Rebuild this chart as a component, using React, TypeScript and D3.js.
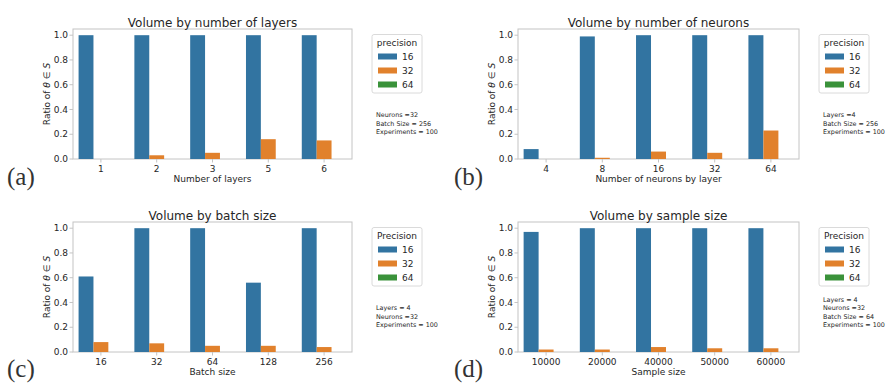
import React from "react";
import * as d3 from "d3";

const precisions = ["16", "32", "64"];
const colors = ["#3274a1", "#e1812c", "#3a923a"];

const layersCats = ["1", "2", "3", "5", "6"];
const layers16 = [1.0, 1.0, 1.0, 1.0, 1.0];
const layers32 = [0.0, 0.03, 0.05, 0.16, 0.15];
const layers64 = [0, 0, 0, 0, 0];

const neuronsCats = ["4", "8", "16", "32", "64"];
const neurons16 = [0.08, 0.99, 1.0, 1.0, 1.0];
const neurons32 = [0.0, 0.01, 0.06, 0.05, 0.23];
const neurons64 = [0, 0, 0, 0, 0];

const batchCats = ["16", "32", "64", "128", "256"];
const batch16 = [0.61, 1.0, 1.0, 0.56, 1.0];
const batch32 = [0.08, 0.07, 0.05, 0.05, 0.04];
const batch64 = [0, 0, 0, 0, 0];

const sampleCats = ["10000", "20000", "40000", "50000", "60000"];
const sample16 = [0.97, 1.0, 1.0, 1.0, 1.0];
const sample32 = [0.02, 0.02, 0.04, 0.03, 0.03];
const sample64 = [0, 0, 0, 0, 0];

const yTicks = [0, 0.2, 0.4, 0.6, 0.8, 1.0];

const FONT = "DejaVu Sans, sans-serif";

type PanelProps = {
  left: number; right: number; top: number; bottom: number;
  title: string; xLabel: string; cats: string[]; series: number[][];
  legendTitle: string; notes: string[]; letter: string; letterX: number; letterY: number;
};

function Panel(p: PanelProps) {
  const x = d3.scaleBand<string>().domain(p.cats).range([p.left, p.right]).padding(0);
  const inner = d3.scaleBand<string>().domain(precisions).range([0, x.bandwidth() * 0.8]).padding(0);
  const y = d3.scaleLinear().domain([0, 1.05]).range([p.bottom, p.top]);
  const cx = (p.left + p.right) / 2;
  const lx = p.right + 20;
  const ly = p.top + 5.5;
  const lw = 50;
  const lh = 58.5;
  const noteLast = p.top + 103 + 2;
  return (
    <g>
      <rect x={p.left} y={p.top} width={p.right - p.left} height={p.bottom - p.top} fill="none" stroke="#c4c4c4" strokeWidth={1} />
      {p.series.map((vals, si) =>
        vals.map((v, i) => {
          const x0 = (x(p.cats[i]) as number) + x.bandwidth() * 0.1 + (inner(precisions[si]) as number);
          return (
            <rect key={`${si}-${i}`} x={x0} y={y(v)} width={inner.bandwidth()} height={p.bottom - y(v)} fill={colors[si]} />
          );
        })
      )}
      {yTicks.map((t) => (
        <g key={t}>
          <line x1={p.left - 3.5} x2={p.left} y1={y(t)} y2={y(t)} stroke="#c4c4c4" />
          <text x={p.left - 5} y={y(t)} dy="0.35em" textAnchor="end" fontSize={9} fill="#262626" fontFamily={FONT}>
            {t.toFixed(1)}
          </text>
        </g>
      ))}
      {p.cats.map((c) => (
        <g key={c}>
          <line x1={(x(c) as number) + x.bandwidth() / 2} x2={(x(c) as number) + x.bandwidth() / 2} y1={p.bottom} y2={p.bottom + 3.5} stroke="#c4c4c4" />
          <text x={(x(c) as number) + x.bandwidth() / 2} y={p.bottom + 12.5} textAnchor="middle" fontSize={9} fill="#262626" fontFamily={FONT}>
            {c}
          </text>
        </g>
      ))}
      <text x={cx} y={p.bottom + 23} textAnchor="middle" fontSize={9} fill="#262626" fontFamily={FONT}>{p.xLabel}</text>
      <text transform={`translate(${p.left - 23},${(p.top + p.bottom) / 2}) rotate(-90)`} textAnchor="middle" fontSize={9} fill="#262626" fontFamily={FONT}>
        Ratio of <tspan fontStyle="italic">θ</tspan> ∈ <tspan fontStyle="italic">S</tspan>
      </text>
      <text x={cx} y={p.top - 2.5} textAnchor="middle" fontSize={12} fill="#262626" fontFamily={FONT}>{p.title}</text>
      <rect x={lx} y={ly} width={lw} height={lh} rx={2} fill="white" stroke="#d0d0d0" strokeWidth={0.8} />
      <text x={lx + lw / 2} y={ly + 11.5} textAnchor="middle" fontSize={9} fill="#262626" fontFamily={FONT}>{p.legendTitle}</text>
      {precisions.map((pr, i) => (
        <g key={pr}>
          <rect x={lx + 6} y={ly + 19 + i * 14} width={19} height={6} fill={colors[i]} />
          <text x={lx + 30} y={ly + 22 + i * 14} dy="0.35em" fontSize={9} fill="#262626" fontFamily={FONT}>{pr}</text>
        </g>
      ))}
      {p.notes.map((n, i) => (
        <text key={i} x={lx + 4} y={noteLast - (p.notes.length - 1 - i) * 8.5} fontSize={6.4} fill="#262626" fontFamily={FONT}>{n}</text>
      ))}
      <text x={p.letterX} y={p.letterY} fontSize={25} fill="#333" fontFamily="Liberation Serif, serif">{p.letter}</text>
    </g>
  );
}

export default function App() {
  return (
    <svg width={892} height={383} style={{ position: "absolute", left: 0, top: 0, background: "white" }}>
      <Panel left={73} right={352} top={29} bottom={159} title="Volume by number of layers" xLabel="Number of layers"
        cats={layersCats} series={[layers16, layers32, layers64]} legendTitle="precision"
        notes={["Neurons =32", "Batch Size = 256", "Experiments = 100"]} letter="(a)" letterX={7} letterY={185} />
      <Panel left={518} right={799} top={29} bottom={159} title="Volume by number of neurons" xLabel="Number of neurons by layer"
        cats={neuronsCats} series={[neurons16, neurons32, neurons64]} legendTitle="precision"
        notes={["Layers =4", "Batch Size = 256", "Experiments = 100"]} letter="(b)" letterX={454} letterY={185} />
      <Panel left={73} right={352} top={222} bottom={352} title="Volume by batch size" xLabel="Batch size"
        cats={batchCats} series={[batch16, batch32, batch64]} legendTitle="Precision"
        notes={["Layers = 4", "Neurons =32", "Experiments = 100"]} letter="(c)" letterX={7} letterY={376.5} />
      <Panel left={518} right={799} top={222} bottom={352} title="Volume by sample size" xLabel="Sample size"
        cats={sampleCats} series={[sample16, sample32, sample64]} legendTitle="Precision"
        notes={["Layers = 4", "Neurons =32", "Batch Size = 64", "Experiments = 100"]} letter="(d)" letterX={454} letterY={376.5} />
    </svg>
  );
}
